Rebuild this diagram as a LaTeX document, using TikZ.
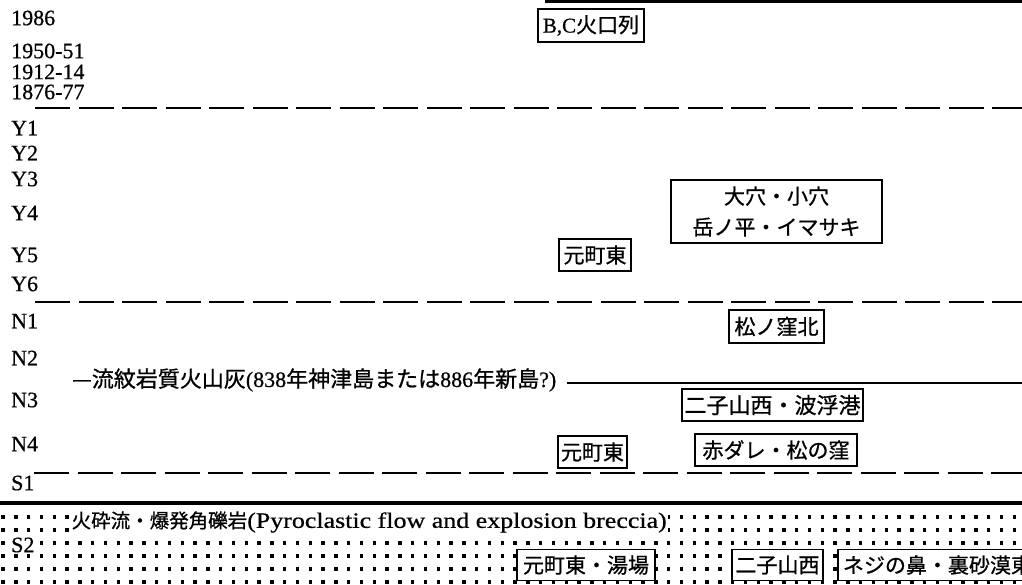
\documentclass[tikz,border=0pt]{standalone}
\usepackage{fontspec}
\setmainfont[FakeBold=0.6]{Liberation Serif}
\newfontfamily\jp[FakeBold=0.8]{Noto Sans CJK JP}
\newfontfamily\wideserif[FakeStretch=1.18,FakeBold=0.6]{Liberation Serif}
\newfontfamily\plainserif[FakeBold=0.6]{Liberation Serif}
\newcommand\J[1]{{\jp #1}}
\begin{document}
\begin{tikzpicture}[x=1pt,y=-1pt,
  lab/.style={anchor=west, inner sep=0pt, font=\fontsize{22}{22}\selectfont},
  dashln/.style={line width=2.5pt, dash pattern=on 35pt off 8.5pt},
  solidln/.style={line width=2.7pt},
  jbox/.style={draw, line width=1.9pt, fill=white, inner sep=0pt, minimum height=32pt,
               font=\jp\fontsize{21}{21}\selectfont},
  knock/.style={fill=white, inner sep=1.5pt}
]
\useasboundingbox (0,0) rectangle (1022,584);
\clip (0,0) rectangle (1022,584);

% ---- dotted layer (pyroclastic flow) ----
\foreach \r in {517,530,543,556,569,582}{
  \foreach \c in {0,...,79}{
    \fill ({3+12.8*\c-1.7},{\r-1.7}) rectangle +(3.4,3.4);
  }
}

% ---- left labels ----
\node[lab] (l1986) at (11,18) {1986};
\node[lab] (l1950) at (11,51) {1950-51};
\node[lab] (l1912) at (11,72) {1912-14};
\node[lab] (l1876) at (11,92) {1876-77};
\node[lab] (y1) at (11,128) {Y1};
\node[lab] (y2) at (11,153) {Y2};
\node[lab] (y3) at (11,179) {Y3};
\node[lab] (y4) at (11,213) {Y4};
\node[lab] (y5) at (11,255) {Y5};
\node[lab] (y6) at (11,284) {Y6};
\node[lab] (n1) at (11,321) {N1};
\node[lab] (n2) at (11,358) {N2};
\node[lab] (n3) at (11,400) {N3};
\node[lab] (n4) at (11,444) {N4};
\node[lab] (s1) at (11,483) {S1};
\node[lab,knock,inner sep=2pt] (s2) at (9,545) {S2};

% ---- horizontal lines ----
\coordinate (t0) at (545,1.5);   \coordinate (t1) at (1022,1.5);
\coordinate (d1a) at (35,108);   \coordinate (d1b) at (1022,108);
\coordinate (d2a) at (35,302);   \coordinate (d2b) at (1022,302);
\coordinate (d3a) at (34,473);   \coordinate (d3b) at (1022,473);
\coordinate (b0) at (0,503);     \coordinate (b1) at (1022,503);
\draw[solidln] (t0) -- (t1);
\draw[dashln] (d1a) -- (d1b);
\draw[dashln] (d2a) -- (d2b);
\draw[dashln] (d3a) -- (d3b);
\draw[line width=3.2pt] (b0) -- (b1);

% ---- ash layer ----
\node[anchor=west, inner sep=0pt, font=\fontsize{22}{22}\selectfont] (ash) at (72,380)
  {\J{—流紋岩質火山灰}(838\J{年神津島または}886\J{年新島}?)};
\coordinate (ash0) at (567,383); \coordinate (ash1) at (1022,383);
\draw[solidln] (ash0) -- (ash1);

% ---- vent boxes ----
\node[jbox, minimum width=106pt, minimum height=33pt] (bc) at (591,25.5)
  {\plainserif B,C\jp 火口列};
\node[jbox, minimum width=211pt, minimum height=63pt, align=center,
      font=\jp\fontsize{21}{31}\selectfont] (oana) at (776.5,211.5)
  {大穴・小穴\\岳ノ平・イマサキ};
\node[jbox, minimum width=72pt] (moto1) at (595,255) {元町東};
\node[jbox, minimum width=95pt, minimum height=33pt] (matsu) at (776.5,326.5) {松ノ窪北};
\node[jbox, minimum width=181pt, font=\jp\fontsize{22}{22}\selectfont] (futa) at (772.5,405) {二子山西・波浮港};
\node[jbox, minimum width=69pt] (moto2) at (592.5,452) {元町東};
\node[jbox, minimum width=162pt] (aka) at (776,450) {赤ダレ・松の窪};

% ---- pyroclastic layer texts ----
\node[anchor=west, knock, font=\fontsize{21}{21}\selectfont] (pyro) at (70,522)
  {{\jp\fontsize{19.5}{21}\selectfont 火砕流・爆発角礫岩}{\wideserif\fontsize{22}{22}\selectfont (Pyroclastic flow and explosion breccia)}};
\node[jbox, minimum width=138pt, minimum height=31pt] (moto3) at (586,565) {元町東・湯場};
\node[jbox, minimum width=91pt, minimum height=31pt] (futa2) at (777.5,565) {二子山西};
\node[jbox, anchor=west, minimum height=31pt, inner xsep=5pt] (neji) at (837,565) {ネジの鼻・裏砂漠東};
\end{tikzpicture}
\end{document}
